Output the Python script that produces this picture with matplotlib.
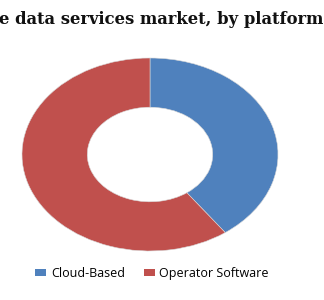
import matplotlib.pyplot as plt
from matplotlib.patches import Patch

# data
platforms = ["Cloud-Based", "Operator Software"]
shares = [40, 60]
colors = ["#4F81BD", "#C0504D"]
title = "e data services market, by platform"

fig = plt.figure(figsize=(3.24, 3.0), dpi=100)
ax = fig.add_axes([22 / 324, 49 / 300, 256 / 324, 193 / 300])

ax.pie(shares, colors=colors, startangle=90, counterclock=False,
       wedgeprops=dict(width=0.51, edgecolor="#d8d8d8", linewidth=0.4))
ax.set_aspect("auto")
ax.set_xlim(-1, 1)
ax.set_ylim(-1, 1)
ax.axis("off")

fig.text(-0.002, 0.935, title, ha="left", va="center", fontsize=11.8,
         fontweight="bold", family="DejaVu Serif", color="#111111")

handles = [Patch(facecolor=c, edgecolor="none") for c in colors]
fig.legend(handles, platforms, loc="center", bbox_to_anchor=(0.469, 0.088),
           ncol=2, frameon=False, handlelength=0.9,
           handleheight=0.45, handletextpad=0.35, columnspacing=1.5,
           prop={"family": "Open Sans", "size": 9})

fig.savefig("out.png", dpi=100)
